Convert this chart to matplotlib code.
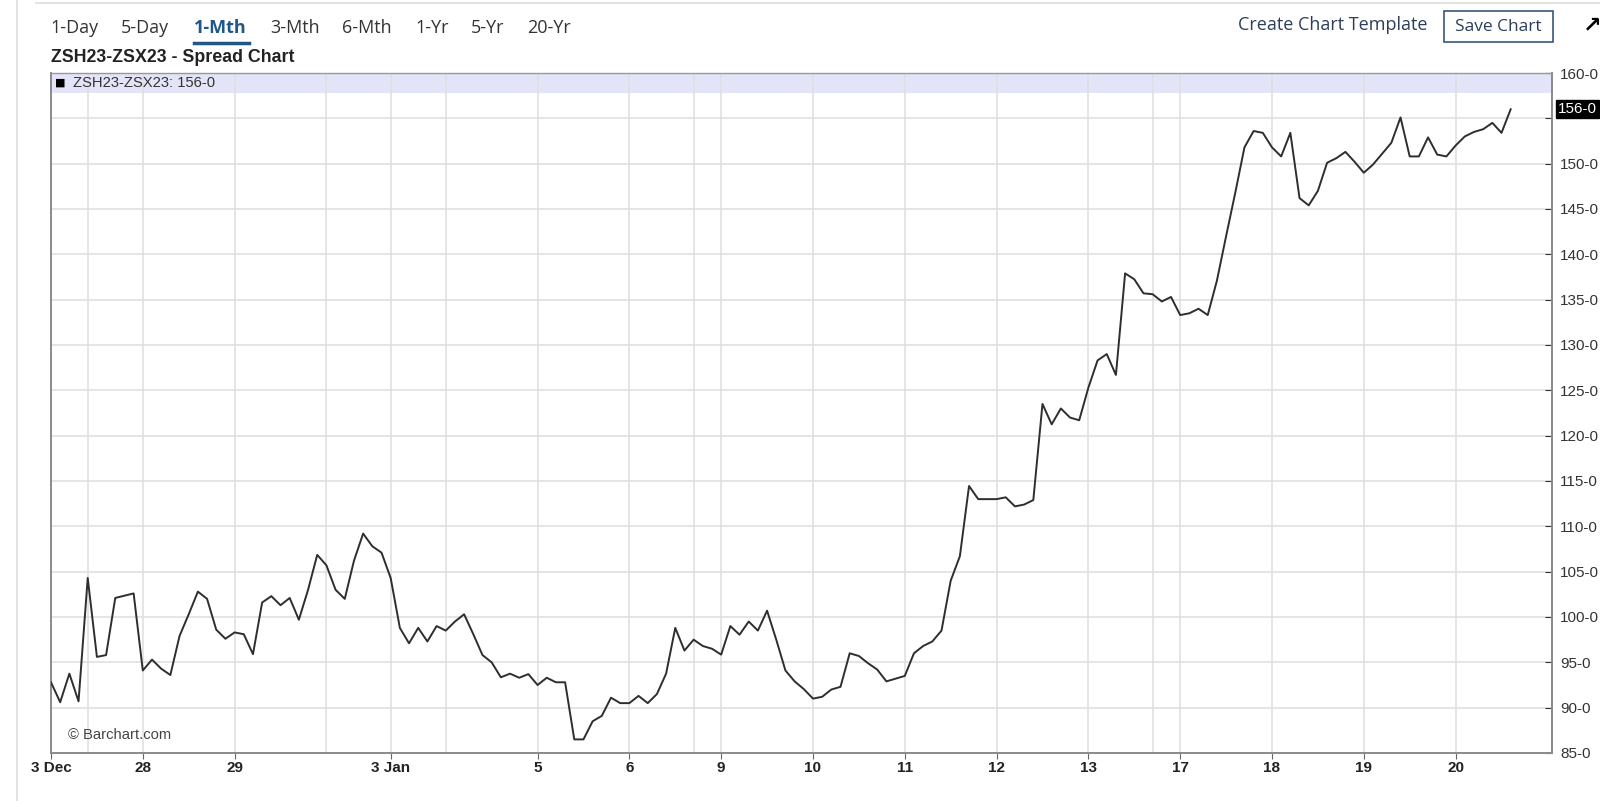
import matplotlib.pyplot as plt
from matplotlib.patches import Rectangle
from matplotlib.lines import Line2D

# spread values, one per bar (hourly-ish)
spread = [
    92.8, 90.6, 93.75, 90.7, 104.3, 95.6, 95.8, 102.1, 102.35, 102.6,
    94.1, 95.3, 94.3, 93.6, 97.9, 100.3, 102.8, 102.0, 98.6, 97.6,
    98.3, 98.1, 95.9, 101.6, 102.3, 101.3, 102.1, 99.7, 103.0, 106.85,
    105.7, 103.0, 102.0, 106.2, 109.2, 107.8, 107.1, 104.3, 98.8, 97.1,
    98.8, 97.3, 99.0, 98.5, 99.5, 100.3, 98.1, 95.8, 95.0, 93.35,
    93.75, 93.3, 93.7, 92.5, 93.3, 92.8, 92.8, 86.5, 86.5, 88.5,
    89.1, 91.1, 90.5, 90.5, 91.3, 90.5, 91.5, 93.75, 98.8, 96.3,
    97.5, 96.8, 96.5, 95.85, 99.0, 98.05, 99.5, 98.5, 100.7, 97.5,
    94.1, 92.9, 92.05, 91.0, 91.2, 92.0, 92.3, 96.0, 95.7, 94.9,
    94.2, 92.9, 93.2, 93.5, 96.0, 96.8, 97.3, 98.5, 104.0, 106.7,
    114.45, 113.0, 113.0, 113.0, 113.2, 112.2, 112.4, 112.9, 123.5, 121.25,
    123.0, 122.0, 121.7, 125.3, 128.3, 129.0, 126.7, 137.9, 137.25, 135.7,
    135.6, 134.8, 135.3, 133.3, 133.5, 134.0, 133.3, 137.1, 142.0, 146.8,
    151.8, 153.6, 153.4, 151.8, 150.8, 153.4, 146.2, 145.4, 147.0, 150.1,
    150.6, 151.3, 150.2, 149.0, 149.9, 151.1, 152.3, 155.1, 150.8, 150.8,
    152.9, 151.0, 150.8, 152.0, 153.0, 153.5, 153.8, 154.5, 153.4, 156.0,
]

# session boundaries (bar index) and their labels
day_ticks = [0, 10, 20, 37, 53, 63, 73, 83, 93, 103, 113, 123, 133, 143, 153]
day_labels = ["3 Dec", "28", "29", "3 Jan", "5", "6", "9", "10", "11", "12",
              "13", "17", "18", "19", "20"]
extra_grid = [4, 30, 43, 70, 120]

y_ticks = list(range(85, 161, 5))
tabs = ["1-Day", "5-Day", "1-Mth", "3-Mth", "6-Mth", "1-Yr", "5-Yr", "20-Yr"]
tab_x = [50, 121, 194, 270, 342, 415, 471, 527]
symbol = "ZSH23-ZSX23"

W, H = 1600, 801
fig = plt.figure(figsize=(16, 8.01), dpi=100)
fig.patch.set_facecolor("white")


def fx(px):
    return px / W


def fy(py):
    return 1 - py / H


ax = fig.add_axes([fx(51), fy(753), fx(1552) - fx(51), fy(73) - fy(753)])
narrow = ["Liberation Sans Narrow", "Liberation Sans", "DejaVu Sans"]

x = list(range(len(spread)))
ax.plot(x, spread, color="#2e2e2e", lw=1.4, zorder=3)

ax.set_xlim(0, 163.5)
ax.set_ylim(85, 160)

# grid
for t in day_ticks + extra_grid:
    ax.axvline(t, color="#dedede", lw=1.1, zorder=0.5)
for v in y_ticks[1:-1]:
    ax.axhline(v, color="#dedede", lw=1.1, zorder=0.5)

# legend band
ax.add_patch(Rectangle((0, 1 - 19.5 / 680), 1, 19.5 / 680, transform=ax.transAxes,
                       facecolor="#e4e4f8", edgecolor="none", zorder=0.2))
ax.text(4 / 1501, 1 - 10 / 680, "\u25a0", transform=ax.transAxes, fontsize=8,
        va="center", ha="left", color="black", family="DejaVu Sans")
ax.text(22 / 1501, 1 - 10 / 680, f"{symbol}: {spread[-1]:.0f}-0", transform=ax.transAxes,
        fontsize=10.6, va="center", ha="left", color="#333333", family=narrow)

ax.text(17 / 1501, 18 / 680, "\u00a9 Barchart.com", transform=ax.transAxes,
        fontsize=10.6, va="center", ha="left", color="#444444", family=narrow)

for s in ax.spines.values():
    s.set_color("#8a8a8a")
    s.set_linewidth(1.4)
ax.spines["top"].set_color("#999999")
ax.spines["top"].set_linewidth(1.0)

ax.set_xticks(day_ticks)
ax.set_xticklabels(day_labels, fontsize=11, fontweight="bold", family=narrow, color="#222222")
ax.tick_params(axis="x", direction="out", length=4, color="#666666", pad=1.5)

ax.yaxis.tick_right()
ax.set_yticks(y_ticks)
ylabels = [f"{v}-0" for v in y_ticks]
ylabels[y_ticks.index(155)] = ""
ax.set_yticklabels(ylabels, fontsize=11, family=narrow, color="#333333")
ax.tick_params(axis="y", direction="in", length=5, color="#333333", pad=6)

# last value marker on the price scale
ax.text(1.0 + 6 / 1501, spread[-1], f"{spread[-1]:.0f}-0", transform=ax.get_yaxis_transform(),
        fontsize=11, family=narrow, color="white", va="center", ha="left",
        bbox=dict(boxstyle="square,pad=0.12", facecolor="black", edgecolor="black"))

# page frame
fig.add_artist(Line2D([fx(17), fx(17)], [0, 1], color="#dddddd", lw=1.2))
fig.add_artist(Line2D([fx(36), 1], [fy(3), fy(3)], color="#dddddd", lw=1.2))

# period tabs
for lab, px in zip(tabs, tab_x):
    if lab == "1-Mth":
        fig.text(fx(px), fy(28), lab, fontsize=13, fontweight="bold", color="#1f5788",
                 family="Open Sans", va="center", ha="left")
    else:
        fig.text(fx(px), fy(28), lab, fontsize=13, color="#333333",
                 family="Open Sans", va="center", ha="left")
fig.add_artist(Line2D([fx(194), fx(249)], [fy(43), fy(43)], color="#1f5788", lw=2.5))

fig.text(fx(51), fy(57), f"{symbol} - Spread Chart", fontsize=12.8, fontweight="bold",
         color="#222222", family=narrow, va="center", ha="left")

fig.text(fx(1428), fy(25), "Create Chart Template", fontsize=13, color="#2c3e5a",
         family="Open Sans", va="center", ha="right")
fig.add_artist(Rectangle((fx(1444), fy(42)), fx(1553) - fx(1444), fy(11) - fy(42),
                         transform=fig.transFigure, facecolor="white", edgecolor="#3a5679", lw=1.2))
fig.text(fx(1498.5), fy(27), "Save Chart", fontsize=12.5, color="#2c3e5a",
         family="Open Sans", va="center", ha="center")
fig.text(fx(1592), fy(25), "\u2197", fontsize=16, fontweight="bold", color="black",
         family="DejaVu Sans", va="center", ha="center")

fig.savefig("out.png", dpi=100)
